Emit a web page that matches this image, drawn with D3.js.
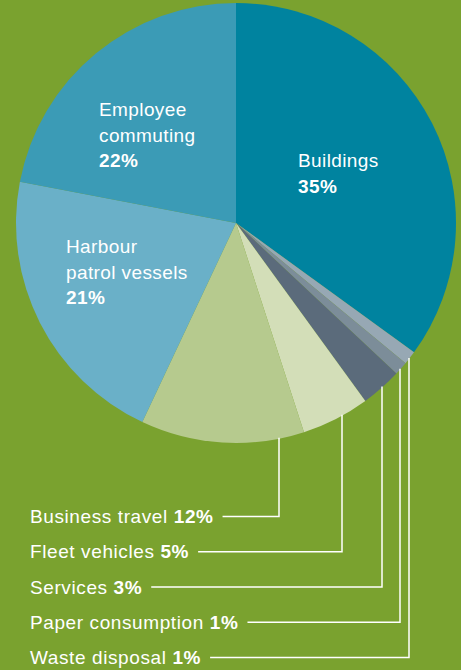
<!DOCTYPE html>
<html>
<head>
<meta charset="utf-8">
<script src="https://cdn.jsdelivr.net/npm/d3@7"></script>
<style>
  body { margin: 0; background: #7aa22f; }
  svg { display: block; font-family: "Liberation Sans", Arial, sans-serif; }
</style>
</head>
<body>
<script>
// emissions share, clockwise from 12 o'clock
var categories = ["Buildings", "Waste disposal", "Paper consumption", "Services",
                  "Fleet vehicles", "Business travel", "Harbour patrol vessels", "Employee commuting"];
var shares = [35, 1, 1, 3, 5, 12, 21, 22];
var sliceColors = ["#00839f", "#97a8b4", "#7c8d99", "#5b6b7b",
                   "#d3deb8", "#b6ca8e", "#6ab0c8", "#3b9bb6"];

// labels drawn inside the pie
var insideLabels = [
  {cat: "Buildings", lines: ["Buildings"], x: 298, y: 167},
  {cat: "Employee commuting", lines: ["Employee", "commuting"], x: 99, y: 116},
  {cat: "Harbour patrol vessels", lines: ["Harbour", "patrol vessels"], x: 66, y: 253}
];
// labels below with leader lines (order top to bottom)
var outsideCats = ["Business travel", "Fleet vehicles", "Services", "Paper consumption", "Waste disposal"];
var leaderX = [279, 342, 382, 400, 409];

var width = 461, height = 670;
var cx = 236, cy = 223, radius = 220;

var svg = d3.select("body").append("svg")
  .attr("width", width)
  .attr("height", height);

var pie = d3.pie().sort(null).value(function(d){ return d; });
var arcs = pie(shares);
var arc = d3.arc().innerRadius(0).outerRadius(radius);

var g = svg.append("g").attr("transform", "translate(" + cx + "," + cy + ")");
g.selectAll("path")
  .data(arcs)
  .enter().append("path")
  .attr("d", arc)
  .attr("fill", function(d, i){ return sliceColors[i]; });

function pct(cat) { return shares[categories.indexOf(cat)] + "%"; }

// inside labels
var lineH = 25.5;
insideLabels.forEach(function(l){
  var t = svg.append("text")
    .attr("x", l.x).attr("y", l.y)
    .attr("fill", "white")
    .style("font-size", "19px")
    .style("letter-spacing", "0.4px");
  l.lines.forEach(function(s, i){
    t.append("tspan").attr("x", l.x).attr("dy", i == 0 ? 0 : lineH).text(s);
  });
  t.append("tspan").attr("x", l.x).attr("dy", lineH)
    .style("font-weight", "bold").text(pct(l.cat));
});

// outside labels
var y = d3.scalePoint().domain(outsideCats).range([523, 664]);
outsideCats.forEach(function(cat, i){
  var by = y(cat);
  var t = svg.append("text")
    .attr("x", 30).attr("y", by)
    .attr("fill", "white")
    .style("font-size", "19px")
    .style("letter-spacing", "0.6px");
  t.append("tspan").text(cat + " ");
  t.append("tspan").style("font-weight", "bold").text(pct(cat));
  var end = 30 + t.node().getComputedTextLength();

  var lx = leaderX[i];
  var top = cy + Math.sqrt(radius * radius - (lx - cx) * (lx - cx)) - 1;
  var ly = by - 6.5;
  svg.append("path")
    .attr("d", "M" + (end + 9) + "," + ly + "H" + lx + "V" + top)
    .attr("fill", "none")
    .attr("stroke", "white")
    .attr("stroke-width", 1.5);
});
</script>
</body>
</html>
